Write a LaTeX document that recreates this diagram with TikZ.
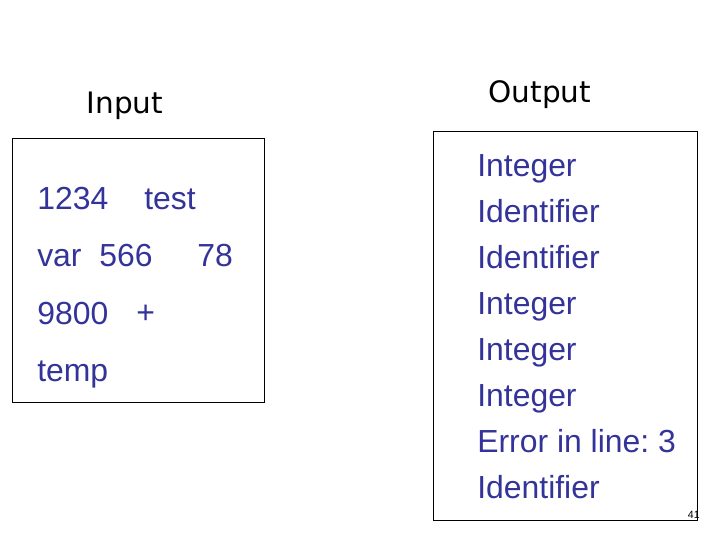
\documentclass[tikz,border=0pt]{standalone}
\usepackage{fontspec}
\setmainfont{Liberation Sans}
\newfontfamily\labelfont{DejaVu Sans}
\usepackage{tikz}
\usetikzlibrary{positioning}
\definecolor{tokblue}{RGB}{51,51,153}
\frenchspacing

\begin{document}
\begin{tikzpicture}[every node/.style={inner sep=0pt,align=left},
		box/.style={draw,line width=0.7pt},
		tok/.style={anchor=base west,text=tokblue,font=\fontsize{22.7}{27}\selectfont},
		head/.style={font=\labelfont\fontsize{21}{25}\selectfont}]
			\useasboundingbox (0,0) rectangle (18,-13.5);
			
			% frames
			\draw[box] (0.3,-3.45) rectangle (6.6,-10.05);
			\draw[box] (10.825,-3.275) rectangle (17.425,-13.0);
			
			\node[head] (in) at (3.125,-2.65) {Input};
			\node[head] (out) at (13.5,-2.375) {Output};
			
			% input tokens
			\node[tok] (i1) at (0.925,-5.24) {1234};
			\node[tok] (i1b) at (3.6,-5.24) {test};
			\node[tok] (i2) at ([yshift=-1.43cm]i1.base west) {var\ \ 566};
			\node[tok] (i2b) at (4.925,-6.665) {78};
			\node[tok] (i3) at ([yshift=-1.43cm]i2.base west) {9800};
			\node[tok] (i3b) at (3.4,-8.095) {+};
			\node[tok] (i4) at ([yshift=-1.43cm]i3.base west) {temp};
			
			% output tokens
			\node[tok] (o1) at (11.925,-4.41) {Integer};
			\node[tok] (o2) at ([yshift=-1.15cm]o1.base west) {Identifier};
			\node[tok] (o3) at ([yshift=-1.15cm]o2.base west) {Identifier};
			\node[tok] (o4) at ([yshift=-1.15cm]o3.base west) {Integer};
			\node[tok] (o5) at ([yshift=-1.15cm]o4.base west) {Integer};
			\node[tok] (o6) at ([yshift=-1.15cm]o5.base west) {Integer};
			\node[tok] (o7) at ([yshift=-1.15cm]o6.base west) {Error in line: 3};
			\node[tok] (o8) at ([yshift=-1.15cm]o7.base west) {Identifier};
			
			\node[anchor=base east,font=\fontsize{7.5}{8}\selectfont] (pg) at (17.5,-12.97) {41};
		\end{tikzpicture}
\end{document}
